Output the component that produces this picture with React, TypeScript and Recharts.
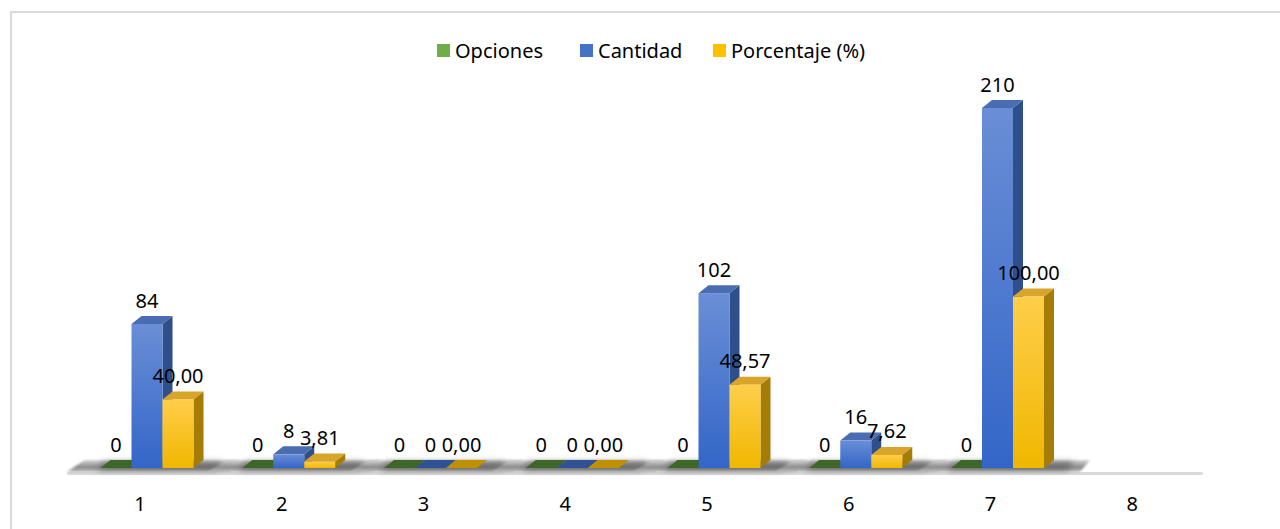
import { BarChart, Bar, XAxis, YAxis, LabelList, ReferenceArea } from "recharts"

// valores
const categorias = ["1", "2", "3", "4", "5", "6", "7", "8"]
const opciones = [0, 0, 0, 0, 0, 0, 0, null]
const cantidad = [84, 8, 0, 0, 102, 16, 210, null]
const porcentaje = [40.0, 3.81, 0, 0, 48.57, 7.62, 100.0, null]

const data = categorias.map((cat, i) => ({
  cat,
  opciones: opciones[i],
  cantidad: cantidad[i],
  porcentaje: porcentaje[i],
}))

const FONT = "'Noto Sans', 'Open Sans', sans-serif"
const DX = 10
const DY = 8
const SHIFT = 7.5
const BAR_W = 31

const colors = {
  opciones: { front: ["#86BF5C", "#5E9A36"], side: "#3F6A25", top: "#4F7F2E", flat: "#3E6626" },
  cantidad: { front: ["#6A8ED6", "#3366C8"], side: "#2F4F8C", top: "#4A6CB0", flat: "#2F5294" },
  porcentaje: { front: ["#FFCE4A", "#F0B700"], side: "#A47C06", top: "#D8A42A", flat: "#BF9000" },
}

type Key = keyof typeof colors

const makeShape = (key: Key, groupShadow: boolean) => (props: any) => {
  const { x, y, width, height, payload } = props
  if (!payload || payload[key] == null) return null
  const c = colors[key]
  const X = x + SHIFT
  const base = y + height
  const top = y
  const w = width
  const shadow = groupShadow ? (
    <g>
      <polygon
        points={`${X - 34},${base + 4} ${X + 3 * w + DX + 26},${base + 4} ${X + 3 * w + DX + 36},${base - 8} ${X - 16},${base - 8}`}
        fill="url(#floorGrad)"
        filter="url(#soft)"
      />
      <polygon
        points={`${X - 4},${base + 2} ${X + 3 * w + DX + 14},${base + 2} ${X + 3 * w + DX + 20},${base - 6} ${X + 4},${base - 6}`}
        fill="#5a5a5a"
        opacity={0.75}
        filter="url(#blur)"
      />
    </g>
  ) : null
  if (height <= 0.5) {
    return (
      <g>
        {shadow}
        <polygon
          points={`${X},${base} ${X + w},${base} ${X + w + DX},${base - DY} ${X + DX},${base - DY}`}
          fill={c.flat}
        />
      </g>
    )
  }
  return (
    <g>
      {shadow}
      <polygon
        points={`${X + w},${top} ${X + w + DX},${top - DY} ${X + w + DX},${base - DY} ${X + w},${base}`}
        fill={c.side}
      />
      <polygon
        points={`${X},${top} ${X + DX},${top - DY} ${X + w + DX},${top - DY} ${X + w},${top}`}
        fill={c.top}
      />
      <rect x={X} y={top} width={w} height={height} fill={`url(#grad-${key})`} />
    </g>
  )
}

const makeLabel = (fmt: (v: number) => string) => (props: any) => {
  const vb = props.viewBox || props
  const { value } = props
  if (value == null || vb == null) return null
  const x = vb.x ?? props.x
  const y = vb.y ?? props.y
  const w = vb.width ?? props.width
  const h = vb.height ?? props.height ?? 0
  const top = Math.min(y, y + h)
  return (
    <text
      x={x + SHIFT + w / 2}
      y={top - 24}
      textAnchor="middle"
      dominantBaseline="central"
      fontSize={20}
      fontFamily={FONT}
      fill="#000"
    >
      {fmt(value)}
    </text>
  )
}

const Floor = (props: any) => {
  const { x, y, width, height } = props
  const base = y + (height || 0)
  return <rect x={x - 2} y={base + 4} width={width + 2} height={3} rx={1.5} fill="#D9D9D9" />
}

const legend = [
  { name: "Opciones", color: "#70AD47", left: 437 },
  { name: "Cantidad", color: "#4472C4", left: 580 },
  { name: "Porcentaje (%)", color: "#FFC000", left: 713 },
]

export default function App() {
  return (
    <div style={{ position: "relative", width: 1280, height: 529, overflow: "hidden", background: "#fff" }}>
      <style>{"html,body{margin:0;padding:0;overflow:hidden;background:#fff}"}</style>
      <div
        style={{
          position: "absolute",
          left: 10,
          top: 11,
          width: 1400,
          height: 700,
          borderTop: "2px solid #D9D9D9",
          borderLeft: "2px solid #D9D9D9",
        }}
      />
      <div style={{ position: "absolute", left: 0, top: 0 }}>
        <BarChart
          width={1280}
          height={529}
          data={data}
          margin={{ top: 39.43, right: 77, bottom: 21, left: 69 }}
          barSize={BAR_W}
          barGap={0}
        >
          <defs>
            {(Object.keys(colors) as Key[]).map((k) => (
              <linearGradient key={k} id={`grad-${k}`} x1="0" y1="0" x2="0" y2="1">
                <stop offset="0%" stopColor={colors[k].front[0]} />
                <stop offset="100%" stopColor={colors[k].front[1]} />
              </linearGradient>
            ))}
            <linearGradient id="floorGrad" x1="0" y1="0" x2="0" y2="1">
              <stop offset="0%" stopColor="#d6d6d6" />
              <stop offset="60%" stopColor="#8a8a8a" />
              <stop offset="100%" stopColor="#c4c4c4" />
            </linearGradient>
            <filter id="soft" x="-10%" y="-50%" width="120%" height="200%">
              <feGaussianBlur stdDeviation="1.2" />
            </filter>
            <filter id="blur" x="-20%" y="-100%" width="140%" height="300%">
              <feGaussianBlur stdDeviation="3" />
            </filter>
          </defs>
          <ReferenceArea y1={0} y2={0} ifOverflow="visible" shape={Floor} />
          <XAxis
            dataKey="cat"
            axisLine={false}
            tickLine={false}
            tickSize={0}
            tickMargin={29}
            height={40}
            interval={0}
            tick={{ fontSize: 20, fontFamily: FONT, fill: "#000" }}
          />
          <YAxis hide domain={[0, 250]} />
          <Bar dataKey="opciones" name="Opciones" fill="#70AD47" isAnimationActive={false} shape={makeShape("opciones", true)}>
            <LabelList dataKey="opciones" content={makeLabel((v) => String(v))} />
          </Bar>
          <Bar dataKey="cantidad" name="Cantidad" fill="#4472C4" isAnimationActive={false} shape={makeShape("cantidad", false)}>
            <LabelList dataKey="cantidad" content={makeLabel((v) => String(v))} />
          </Bar>
          <Bar dataKey="porcentaje" name="Porcentaje (%)" fill="#FFC000" isAnimationActive={false} shape={makeShape("porcentaje", false)}>
            <LabelList dataKey="porcentaje" content={makeLabel((v) => v.toFixed(2).replace(".", ","))} />
          </Bar>
        </BarChart>
      </div>
      {legend.map((l) => (
        <div
          key={l.name}
          style={{
            position: "absolute",
            left: l.left,
            top: 38,
            height: 24,
            display: "flex",
            alignItems: "center",
            fontFamily: FONT,
            fontSize: 20,
            color: "#000",
            whiteSpace: "nowrap",
          }}
        >
          <span style={{ display: "inline-block", width: 13, height: 13, background: l.color, marginRight: 5 }} />
          {l.name}
        </div>
      ))}
    </div>
  )
}
